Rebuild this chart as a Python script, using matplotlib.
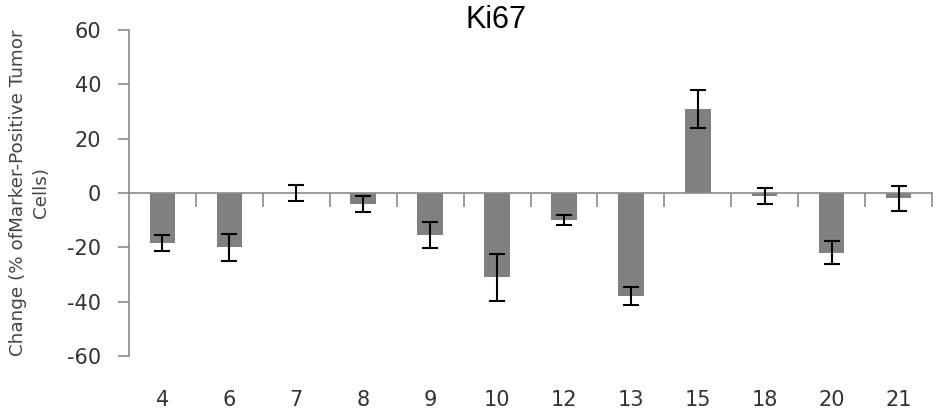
import matplotlib
matplotlib.use("Agg")
import matplotlib.pyplot as plt
import matplotlib.transforms as mtransforms
import numpy as np

plt.rcParams["axes.unicode_minus"] = False

# ============================================================
# Data
# ============================================================
patients = ["4", "6", "7", "8", "9", "10", "12", "13", "15", "18", "20", "21"]
change = [-18.5, -20, 0, -4, -15.5, -31, -10, -38, 31, -1, -22, -2]
err = [3, 5, 3, 3, 4.8, 8.6, 1.8, 3.3, 7, 3, 4.2, 4.5]

BAR_COLOR = "#808080"
AXIS_COLOR = "#8a8a8a"
TEXT_COLOR = "#333333"

x = np.arange(len(patients))

fig = plt.figure(figsize=(9.38, 4.17), dpi=100)
ax = fig.add_axes([129 / 938, 1 - 356 / 417, (932 - 129) / 938, (356 - 30) / 417])

ax.bar(x, change, width=0.38, color=BAR_COLOR, zorder=2)
ax.errorbar(x, change, yerr=err, fmt="none", ecolor="black",
            elinewidth=1.5, capsize=5.5, capthick=1.5, zorder=3)

ax.set_xlim(-0.5, len(patients) - 0.5)
ax.set_ylim(-60, 60)
ax.set_yticks(np.arange(-60, 61, 20))

# spines: only left, plus the category axis running along y = 0
for side in ["top", "right"]:
    ax.spines[side].set_visible(False)
ax.spines["left"].set_color(AXIS_COLOR)
ax.spines["left"].set_linewidth(1.2)
ax.spines["bottom"].set_position(("data", 0))
ax.spines["bottom"].set_color(AXIS_COLOR)
ax.spines["bottom"].set_linewidth(1.2)

# ticks between categories hang down from the zero line
ax.set_xticks(x)
ax.set_xticklabels([])
ax.tick_params(axis="x", which="major", length=0)
ax.set_xticks(np.arange(0.5, len(patients), 1.0), minor=True)
ax.tick_params(axis="x", which="minor", direction="out", length=10,
               width=1.2, color=AXIS_COLOR)

ax.tick_params(axis="y", direction="out", length=8, width=1.2,
               color=AXIS_COLOR, labelsize=15, labelcolor=TEXT_COLOR, pad=12)

# category labels sit below the plot area (Excel "low" position)
trans = mtransforms.blended_transform_factory(ax.transData, ax.transAxes)
for xi, lab in zip(x, patients):
    ax.text(xi, -0.135, lab, transform=trans, ha="center", va="center",
            fontsize=15, color=TEXT_COLOR)

ax.set_ylabel("Change (% ofMarker-Positive Tumor\nCells)", fontsize=13.2,
              color="#444444", labelpad=12, linespacing=1.4)

fig.text(496 / 938, 1 - 20 / 417, "Ki67", ha="center", va="center",
         fontsize=22, family="Liberation Sans", color="black")

fig.savefig("out.png", dpi=100)
